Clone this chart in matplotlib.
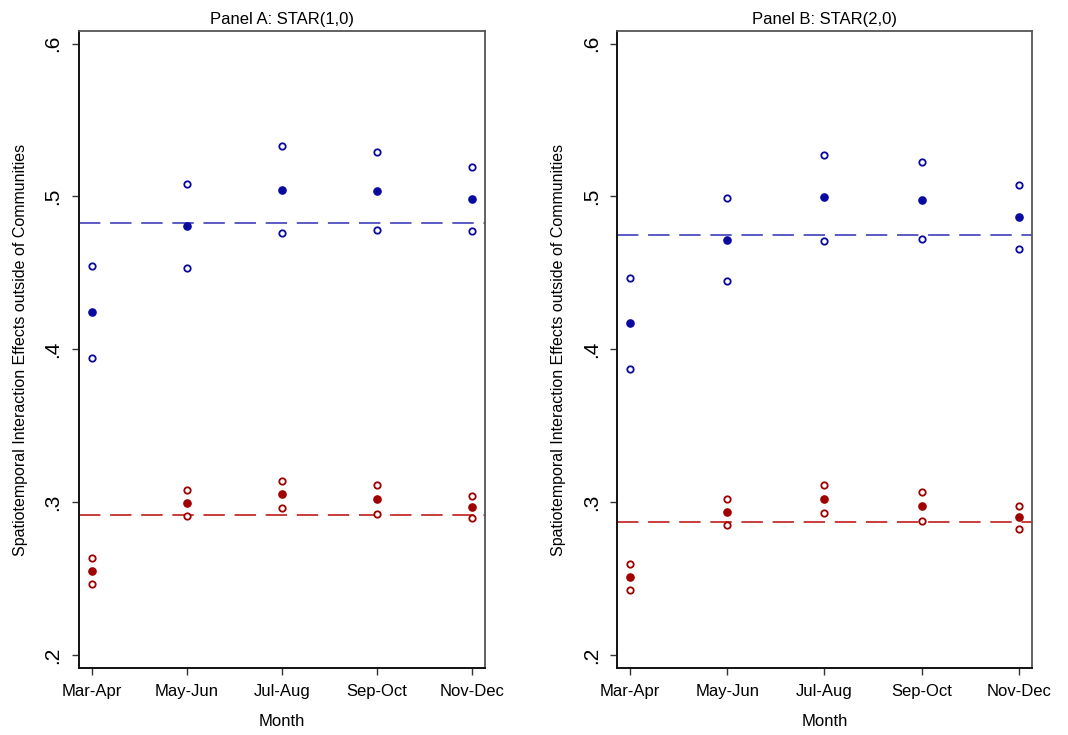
import matplotlib
matplotlib.use("Agg")
import matplotlib.pyplot as plt

plt.rcParams['font.family'] = ['Liberation Sans', 'DejaVu Sans']

months = ['Mar-Apr', 'May-Jun', 'Jul-Aug', 'Sep-Oct', 'Nov-Dec']

# Panel A: STAR(1,0)
a_blue_est = [0.4244, 0.4804, 0.5042, 0.5035, 0.4985]
a_blue_hi = [0.4547, 0.5079, 0.5328, 0.5288, 0.5192]
a_blue_lo = [0.3941, 0.4530, 0.4761, 0.4778, 0.4774]
a_blue_avg = 0.4824
a_red_est = [0.2552, 0.2997, 0.3052, 0.3019, 0.2969]
a_red_hi = [0.2635, 0.3082, 0.3141, 0.3115, 0.3043]
a_red_lo = [0.2467, 0.2912, 0.2960, 0.2925, 0.2895]
a_red_avg = 0.2918

# Panel B: STAR(2,0)
b_blue_est = [0.4170, 0.4715, 0.4998, 0.4978, 0.4865]
b_blue_hi = [0.4468, 0.4987, 0.5273, 0.5227, 0.5073]
b_blue_lo = [0.3871, 0.4445, 0.4710, 0.4723, 0.4658]
b_blue_avg = 0.4748
b_red_est = [0.2511, 0.2936, 0.3021, 0.2973, 0.2901]
b_red_hi = [0.2594, 0.3023, 0.3112, 0.3069, 0.2975]
b_red_lo = [0.2428, 0.2851, 0.2929, 0.2879, 0.2827]
b_red_avg = 0.2871

panels = [
    ('Panel A: STAR(1,0)', a_blue_est, a_blue_hi, a_blue_lo, a_blue_avg,
     a_red_est, a_red_hi, a_red_lo, a_red_avg),
    ('Panel B: STAR(2,0)', b_blue_est, b_blue_hi, b_blue_lo, b_blue_avg,
     b_red_est, b_red_hi, b_red_lo, b_red_avg),
]

BLUE = '#0a0aa0'
BLUE_LINE = '#5a5ac4'
RED = '#a00000'
RED_LINE = '#c83c3c'

fig = plt.figure(figsize=(10.68, 7.35), dpi=100)
boxes = [[0.074, 0.0907, 0.380, 0.8671], [0.578, 0.0907, 0.388, 0.8671]]

x = list(range(1, len(months) + 1))
for box, (title, be, bh, bl, bavg, re, rh, rl, ravg) in zip(boxes, panels):
    ax = fig.add_axes(box)
    for est, hi, lo, avg, c, lc in [(be, bh, bl, bavg, BLUE, BLUE_LINE),
                                    (re, rh, rl, ravg, RED, RED_LINE)]:
        ax.axhline(avg, color=lc, lw=1.4, dashes=(11, 5), zorder=1)
        ax.plot(x, est, 'o', color=c, ms=5.2, zorder=3)
        ax.plot(x, hi, 'o', mfc='white', mec=c, ms=4.6, mew=1.3, zorder=3)
        ax.plot(x, lo, 'o', mfc='white', mec=c, ms=4.6, mew=1.3, zorder=3)

    ax.set_xlim(0.867, 5.133)
    ax.set_ylim(0.1913, 0.6082)
    ax.set_xticks(x)
    ax.set_xticklabels(months, fontsize=12)
    ax.set_yticks([0.2, 0.3, 0.4, 0.5, 0.6])
    ax.set_yticklabels(['.2', '.3', '.4', '.5', '.6'], rotation=90,
                       va='center', fontsize=15)
    ax.tick_params(axis='both', direction='out', length=5, width=1.0,
                   color='#333333')
    ax.tick_params(axis='y', pad=7)
    ax.tick_params(axis='x', pad=6)
    ax.set_xlabel('Month', fontsize=12, labelpad=11)
    ax.set_ylabel('Spatiotemporal Interaction Effects outside of Communities',
                  fontsize=11.5, labelpad=11)
    ax.set_title(title, fontsize=12, pad=5)
    for side in ['left', 'bottom']:
        ax.spines[side].set_color('#111111')
        ax.spines[side].set_linewidth(1.4)
    for side in ['top', 'right']:
        ax.spines[side].set_color('#555555')
        ax.spines[side].set_linewidth(1.3)

fig.savefig('out.png', dpi=100)
